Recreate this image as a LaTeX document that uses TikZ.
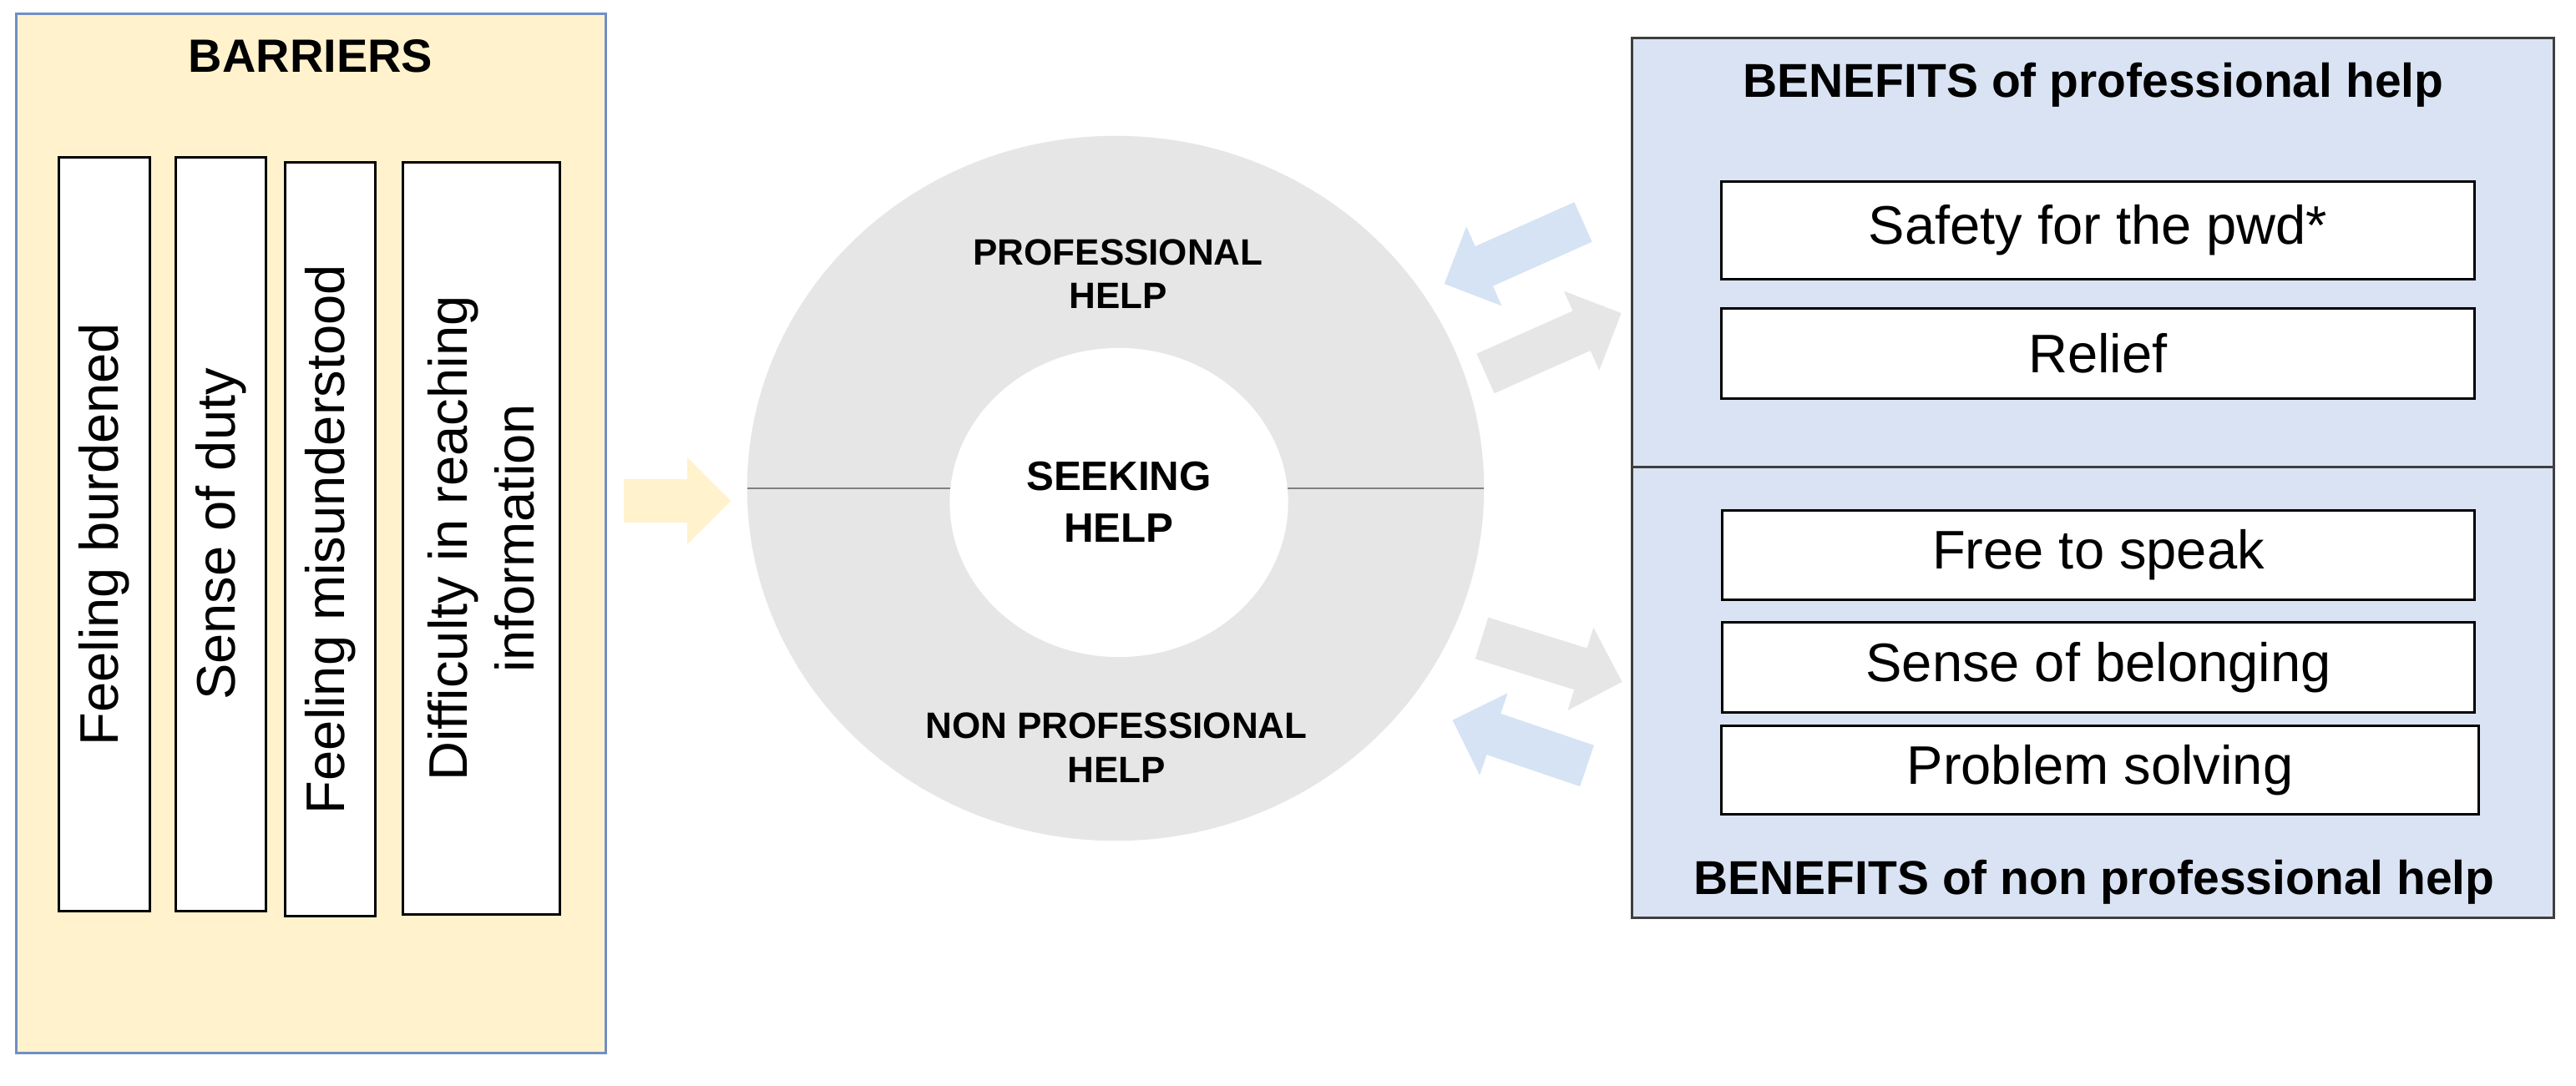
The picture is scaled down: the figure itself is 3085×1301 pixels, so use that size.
\documentclass[tikz,border=0pt]{standalone}
\usepackage{fontspec}
\setmainfont{Liberation Sans}
\usetikzlibrary{shapes.geometric}
\definecolor{yfill}{HTML}{FFF2CC}
\definecolor{yborder}{HTML}{6F8FC6}
\definecolor{bfill}{HTML}{DAE3F3}
\definecolor{bborder}{HTML}{3F3F3F}
\definecolor{cgray}{HTML}{E6E6E6}
\definecolor{lgray}{HTML}{808080}
\definecolor{barrowc}{HTML}{D5E3F4}
\newcommand\blkarrow[5]{%
  \fill[#5, shift={(#1,#2)}, rotate=#3] (0,-26) -- ({#4-52},-26) -- ({#4-52},-52) -- (#4,0) -- ({#4-52},52) -- ({#4-52},26) -- (0,26) -- cycle;}
\tikzset{
  boxtext/.style={font=\fontsize{18.5pt}{22.8pt}\selectfont},
  barbox/.style={draw=black, line width=0.85pt, fill=white, rotate=90, boxtext, align=center, inner sep=0pt},
  benbox/.style={draw=black, line width=0.85pt, fill=white, boxtext, inner sep=0pt, minimum width=9.01cm},
  ringlbl/.style={font=\bfseries\fontsize{12.5pt}{15pt}\selectfont, anchor=base},
  seeklbl/.style={font=\bfseries\fontsize{14pt}{17pt}\selectfont, anchor=base},
  bentitle/.style={font=\bfseries\fontsize{16.2pt}{19pt}\selectfont, anchor=base},
}
\begin{document}
\begin{tikzpicture}[x=0.01cm, y=-0.01cm]
\useasboundingbox (0,0) rectangle (3085,1301);
\fill[white] (0,0) rectangle (3085,1301);

% left panel
\node[draw=yborder, fill=yfill, line width=0.85pt, minimum width=7.05cm, minimum height=12.44cm, inner sep=0pt] (barpanel) at (372.5,639) {};
\node[font=\bfseries\fontsize{15.9pt}{19pt}\selectfont, anchor=base] (bartitle) at (372,87) {BARRIERS};
\node[barbox, minimum width=9.02cm, minimum height=1.08cm] (b1) at (125,640) {Feeling burdened};
\node[barbox, minimum width=9.02cm, minimum height=1.07cm] (b2) at (264.5,640) {Sense of duty};
\node[barbox, minimum width=9.02cm, minimum height=1.07cm] (b3) at (395.5,646) {Feeling misunderstood};
\node[barbox, minimum width=9.00cm, minimum height=1.87cm] (b4) at (576.5,645) {Difficulty in reaching\\information};

% yellow arrow
\blkarrow{747}{600}{0}{128}{yfill}

% ring
\node[ellipse, fill=cgray, minimum width=8.82cm, minimum height=8.44cm, inner sep=0pt] (outer) at (1336,585) {};
\node[ellipse, fill=white, minimum width=4.05cm, minimum height=3.70cm, inner sep=0pt] (inner) at (1340,602) {};
\coordinate (lineL1) at (895,585);
\coordinate (lineL2) at (1138,585);
\coordinate (lineR1) at (1542,585);
\coordinate (lineR2) at (1777,585);
\draw[lgray, line width=0.85pt] (lineL1) -- (lineL2);
\draw[lgray, line width=0.85pt] (lineR1) -- (lineR2);
\node[ringlbl] (pro1) at (1339,318) {PROFESSIONAL};
\node[ringlbl] (pro2) at (1339,370) {HELP};
\node[seeklbl] (seek1) at (1340,588) {SEEKING};
\node[seeklbl] (seek2) at (1340,650) {HELP};
\node[ringlbl] (npro1) at (1337,885) {NON PROFESSIONAL};
\node[ringlbl] (npro2) at (1337,938) {HELP};

% side arrows
\blkarrow{1896}{266}{204.0}{182}{barrowc}
\blkarrow{1779}{447.5}{24.0}{178}{cgray}
\blkarrow{1774.5}{764.5}{-17.3}{176}{cgray}
\blkarrow{1900.5}{917.5}{161.2}{170}{barrowc}

% right panel
\node[draw=bborder, fill=bfill, line width=0.85pt, minimum width=11.03cm, minimum height=5.14cm, inner sep=0pt] (propanel) at (2506.5,303) {};
\node[draw=bborder, fill=bfill, line width=0.85pt, minimum width=11.03cm, minimum height=5.39cm, inner sep=0pt] (npropanel) at (2506.5,829.5) {};
\node[bentitle] (protitle) at (2507,117) {BENEFITS of professional help};
\node[benbox, minimum height=1.16cm] (safety) at (2512.5,276) {Safety for the pwd*};
\node[benbox, minimum height=1.07cm] (relief) at (2512.5,423.5) {Relief};
\node[benbox, minimum height=1.06cm] (free) at (2513,665) {Free to speak};
\node[benbox, minimum height=1.07cm] (belong) at (2513,799.5) {Sense of belonging};
\node[benbox, minimum height=1.05cm, minimum width=9.06cm] (problem) at (2515,922.5) {Problem solving};
\node[bentitle] (nprotitle) at (2508,1071) {BENEFITS of non professional help};
\end{tikzpicture}
\end{document}
